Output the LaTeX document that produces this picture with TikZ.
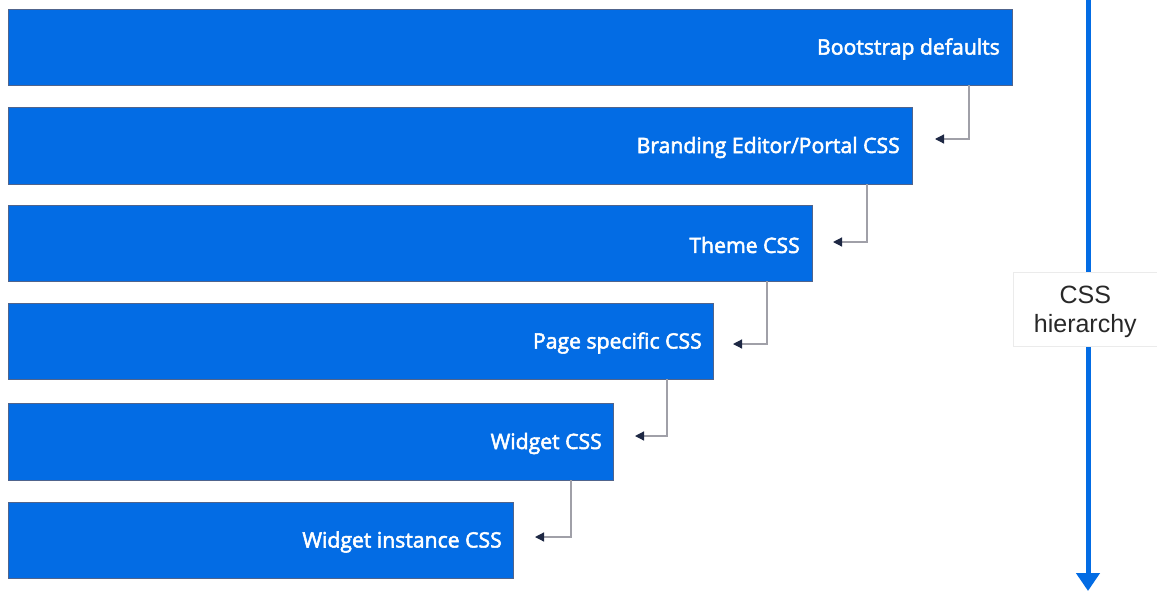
\documentclass[tikz,border=0pt]{standalone}
\usepackage{fontspec}
\setmainfont{Open Sans}
\newfontfamily\barfont{Open Sans}[FakeBold=2.5]
\newfontfamily\labfont{Liberation Sans}
\usetikzlibrary{arrows.meta,calc}
\definecolor{barblue}{RGB}{3,108,228}
\definecolor{baredge}{RGB}{80,100,140}
\definecolor{conngray}{RGB}{160,160,168}
\definecolor{tipdark}{RGB}{30,40,68}
\definecolor{labgray}{RGB}{40,40,40}
\tikzset{
  bar/.style={rectangle, fill=barblue, draw=baredge, line width=0.8pt, anchor=north west, minimum height=76pt, inner sep=0pt, outer sep=0pt},
  bartext/.style={anchor=east, text=white, font=\barfont\fontsize{21.2}{24}\selectfont, inner sep=0pt},
  conn/.style={draw=conngray, line width=1.2pt, -{Triangle[length=9pt,width=9pt,color=tipdark]}},
  hier/.style={draw=barblue, line width=5pt, -{Triangle[length=18pt,width=23pt]}},
  hierbox/.style={rectangle, fill=white, draw=black!8, line width=0.6pt, minimum width=144pt, minimum height=74pt, inner sep=0pt}
}
\begin{document}
\begin{tikzpicture}[x=1pt,y=-1pt]
\useasboundingbox (0,0) rectangle (1157,592);
% vertical hierarchy arrow
\coordinate (htop) at (1088,0);
\coordinate (hbot) at (1088,591);
\draw[hier] (htop) -- (hbot);
\node[hierbox, anchor=north west] (hb) at (1013,272) {};
\node[font=\labfont\fontsize{25}{29}\selectfont, text=labgray, align=center, inner sep=0pt] (hbt) at ($(hb.center)+(0,3)$) {CSS\\hierarchy};
% bars
\node[bar, minimum width=1004pt] (b1) at (8,9) {};
\node[bar, minimum width=904pt, minimum height=77pt] (b2) at (8,107) {};
\node[bar, minimum width=804pt] (b3) at (8,205) {};
\node[bar, minimum width=705pt] (b4) at (8,303) {};
\node[bar, minimum width=605pt, minimum height=77pt] (b5) at (8,403) {};
\node[bar, minimum width=505pt] (b6) at (8,502) {};
% texts
\node[bartext] (t1) at ($(b1.east)+(-12,2)$) {Bootstrap defaults};
\node[bartext] (t2) at ($(b2.east)+(-12,2)$) {Branding Editor/Portal CSS};
\node[bartext] (t3) at ($(b3.east)+(-12,2)$) {Theme CSS};
\node[bartext] (t4) at ($(b4.east)+(-11,2)$) {Page specific CSS};
\node[bartext] (t5) at ($(b5.east)+(-11,2)$) {Widget CSS};
\node[bartext] (t6) at ($(b6.east)+(-11,2)$) {Widget instance CSS};
% connector ends
\coordinate (e2) at (935,139);
\coordinate (e3) at (833,242);
\coordinate (e4) at (733,344);
\coordinate (e5) at (635,436);
\coordinate (e6) at (535,537);
\draw[conn] ($(b1.south east)+(-43,0)$) |- (e2);
\draw[conn] ($(b2.south east)+(-45,0)$) |- (e3);
\draw[conn] ($(b3.south east)+(-45,0)$) |- (e4);
\draw[conn] ($(b4.south east)+(-46,0)$) |- (e5);
\draw[conn] ($(b5.south east)+(-42,0)$) |- (e6);
\end{tikzpicture}
\end{document}
